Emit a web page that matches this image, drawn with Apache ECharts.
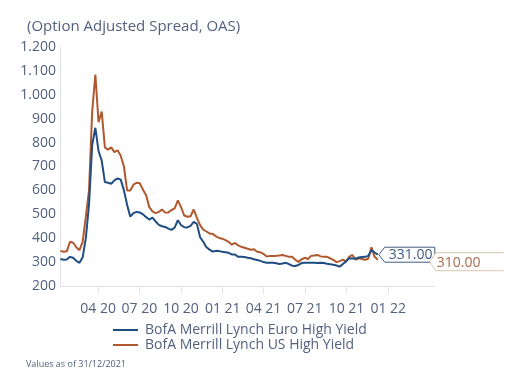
<!DOCTYPE html>
<html><head><meta charset="utf-8">
<script src="https://cdn.jsdelivr.net/npm/echarts@6/dist/echarts.min.js"></script>
<style>html,body{margin:0;padding:0;background:#fff}#c{width:531px;height:392px}</style>
</head><body><div id="c"></div>
<script>
const dates = [
'2020-01-09','2020-01-16','2020-01-23','2020-01-30','2020-02-06','2020-02-13','2020-02-20','2020-02-27','2020-03-05','2020-03-12',
'2020-03-19','2020-03-26','2020-04-02','2020-04-09','2020-04-16','2020-04-23','2020-04-30','2020-05-07','2020-05-14','2020-05-21',
'2020-05-28','2020-06-04','2020-06-11','2020-06-18','2020-06-25','2020-07-02','2020-07-09','2020-07-16','2020-07-23','2020-07-30',
'2020-08-06','2020-08-13','2020-08-20','2020-08-27','2020-09-03','2020-09-10','2020-09-17','2020-09-24','2020-10-01','2020-10-08',
'2020-10-15','2020-10-22','2020-10-29','2020-11-05','2020-11-12','2020-11-19','2020-11-26','2020-12-03','2020-12-10','2020-12-17',
'2020-12-24','2020-12-31','2021-01-07','2021-01-14','2021-01-21','2021-01-28','2021-02-04','2021-02-11','2021-02-18','2021-02-25',
'2021-03-04','2021-03-11','2021-03-18','2021-03-25','2021-04-01','2021-04-08','2021-04-15','2021-04-22','2021-04-29','2021-05-06',
'2021-05-13','2021-05-20','2021-05-27','2021-06-03','2021-06-10','2021-06-17','2021-06-24','2021-07-01','2021-07-08','2021-07-15',
'2021-07-22','2021-07-29','2021-08-05','2021-08-12','2021-08-19','2021-08-26','2021-09-02','2021-09-09','2021-09-16','2021-09-23',
'2021-09-30','2021-10-07','2021-10-14','2021-10-21','2021-10-28','2021-11-04','2021-11-11','2021-11-18','2021-11-25','2021-12-02',
'2021-12-09'];
const euroHY = [
313,310,311,322,318,305,297,320,400,540,
790,862,765,725,635,632,628,642,650,645,
600,540,490,505,510,508,500,488,478,486,
470,456,450,447,440,435,445,475,455,446,
445,452,468,460,404,385,362,352,344,347,
346,343,341,339,332,332,322,322,321,318,
316,312,309,305,300,297,297,297,295,292,
294,297,292,285,284,288,296,297,297,297,
297,296,297,296,293,291,289,286,281,292,
303,316,315,314,319,321,322,326,350,340,
331];
const usHY = [
347,343,345,385,381,362,350,385,490,600,
930,1085,885,930,780,770,780,760,768,745,
700,600,600,624,632,630,603,580,530,512,
505,510,520,507,508,518,525,558,530,495,
490,492,520,485,455,436,428,420,418,408,
401,398,392,385,373,380,370,364,360,356,
352,354,343,341,334,323,326,326,326,328,
330,326,322,322,310,301,312,318,313,326,
328,330,324,322,322,316,309,300,304,310,
303,322,330,310,316,313,310,314,362,322,
310];
const seriesNames = ['BofA Merrill Lynch Euro High Yield', 'BofA Merrill Lynch US High Yield'];
const lastValueLabels = ['331.00', '310.00'];
const tickDates = ['2020-04-01','2020-07-01','2020-10-01','2021-01-01','2021-04-01','2021-07-01','2021-10-01','2022-01-01'];
const tickLabels = ['04 20','07 20','10 20','01 21','04 21','07 21','10 21','01 22'];
const axisStart = '2020-01-08';
const axisEnd = '2022-04-12';
const yMin = 200, yMax = 1200, yStep = 100;
const titleText = '(Option Adjusted Spread, OAS)';
const footText = 'Values as of 31/12/2021';

const C_TEXT = '#52617f', C_EURO = '#1f4d82', C_US = '#b0582e', C_AXIS = '#dfe3ea';
const FONT = 'Open Sans';
function dayOf(s) { const p = s.split('-').map(Number); return (Date.UTC(p[0], p[1]-1, p[2]) - Date.UTC(2020,0,1)) / 864e5; }
const tickDays = tickDates.map(dayOf);
const euroData = dates.map((d,i) => [dayOf(d), euroHY[i]]);
const usData = dates.map((d,i) => [dayOf(d), usHY[i]]);

const chart = echarts.init(document.getElementById('c'), null, {renderer: 'canvas'});
chart.setOption({
  animation: false,
  backgroundColor: '#fff',
  title: [
    {text: titleText, left: 22, top: 14, textStyle: {fontFamily: FONT, fontSize: 15, fontWeight: 'normal', color: C_TEXT}},
    {text: footText, left: 21, top: 355, textStyle: {fontFamily: FONT, fontSize: 9, fontWeight: 'normal', color: C_TEXT}}
  ],
  grid: {left: 60, right: 97, top: 47, bottom: 106},
  xAxis: {
    type: 'value', min: dayOf(axisStart), max: dayOf(axisEnd),
    axisLine: {show: true, lineStyle: {color: C_AXIS, width: 1}},
    axisTick: {show: true, length: 8, customValues: tickDays, lineStyle: {color: C_AXIS}},
    axisLabel: {customValues: tickDays, margin: 16, color: C_TEXT, fontFamily: FONT, fontSize: 14,
      formatter: v => { const i = tickDays.indexOf(v); return i >= 0 ? tickLabels[i] : ''; }},
    splitLine: {show: false}
  },
  yAxis: {
    type: 'value', min: yMin, max: yMax, interval: yStep,
    axisLine: {show: true, lineStyle: {color: C_AXIS, width: 1}},
    axisTick: {show: false},
    axisLabel: {margin: 4, color: C_TEXT, fontFamily: FONT, fontSize: 14,
      formatter: v => v >= 1000 ? Math.floor(v/1000) + '.' + String(v % 1000).padStart(3, '0') : String(v)},
    splitLine: {show: false}
  },
  legend: {
    orient: 'vertical', left: 108, top: 318, itemWidth: 25, itemHeight: 2, itemGap: 1, icon: 'rect',
    textStyle: {fontFamily: FONT, fontSize: 14, color: C_TEXT, padding: [0,0,0,2]},
    data: seriesNames
  },
  series: [
    {name: seriesNames[0], type: 'line', data: euroData, showSymbol: false, color: C_EURO, lineStyle: {width: 2, color: C_EURO}, z: 3},
    {name: seriesNames[1], type: 'line', data: usData, showSymbol: false, color: C_US, lineStyle: {width: 2, color: C_US}, z: 2}
  ]
});

const pe = chart.convertToPixel({gridIndex: 0}, euroData[euroData.length-1]);
const pu = chart.convertToPixel({gridIndex: 0}, usData[usData.length-1]);
const ex = pe[0] + 1, ey = pe[1];
const ux = pu[0] + 52, uy = pu[1] + 2;
chart.setOption({
  graphic: [
    {type: 'polygon', z: 100, shape: {points: [[ex,ey],[ex+6,ey-7.5],[ex+56,ey-7.5],[ex+56,ey+7.5],[ex+6,ey+7.5]]},
      style: {fill: '#fff', stroke: '#3d5a80', lineWidth: 1}},
    {type: 'text', z: 101, x: ex + 10, y: ey, style: {text: lastValueLabels[0], fill: '#3d5a80', fontFamily: FONT, fontSize: 14, verticalAlign: 'middle'}},
    {type: 'polygon', z: 102, shape: {points: [[ux,uy],[ux+6,uy-9],[ux+74,uy-9],[ux+74,uy+9],[ux+6,uy+9]]},
      style: {fill: '#fff', stroke: null}},
    {type: 'polyline', z: 103, shape: {points: [[ux+74,uy-9],[ux+6,uy-9],[ux,uy],[ux+6,uy+9],[ux+74,uy+9]]},
      style: {fill: null, stroke: '#d6c8b2', lineWidth: 1}},
    {type: 'text', z: 104, x: ux + 7, y: uy + 1, style: {text: lastValueLabels[1], fill: '#a9694c', fontFamily: FONT, fontSize: 14, verticalAlign: 'middle'}}
  ]
});
</script></body></html>
